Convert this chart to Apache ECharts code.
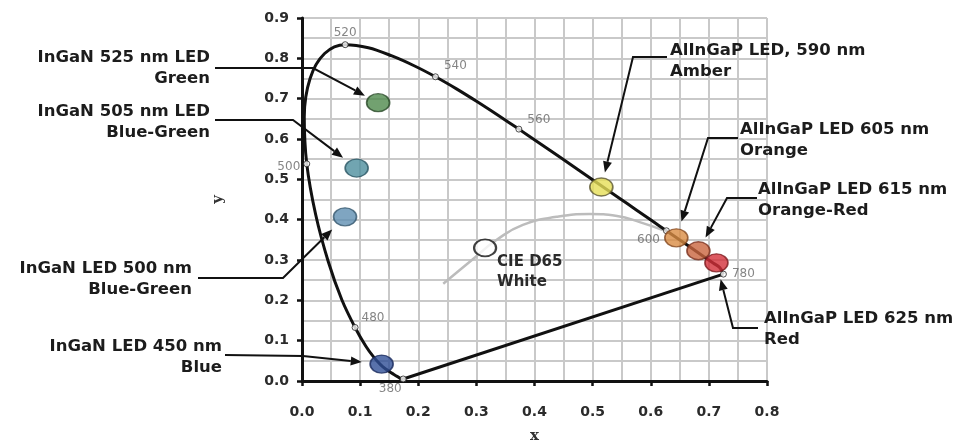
<!DOCTYPE html>
<html><head><meta charset="utf-8">
<script src="https://cdn.jsdelivr.net/npm/echarts@6/dist/echarts.min.js"></script>
<style>html,body{margin:0;padding:0;background:#fff}#c{width:966px;height:441px}</style>
</head><body><div id="c"></div>
<script>
// ---------- data ----------
const locusNm = [380,420,440,450,455,460,465,470,475,480,485,490,495,500,505,510,515,520,525,530,535,540,545,550,555,560,565,570,575,580,585,590,595,600,605,610,620,630,640,780];
const locusX = [0.1741,0.1714,0.1644,0.1566,0.1510,0.1440,0.1355,0.1241,0.1096,0.0913,0.0687,0.0454,0.0235,0.0082,0.0039,0.0139,0.0389,0.0743,0.1142,0.1547,0.1929,0.2296,0.2658,0.3016,0.3373,0.3731,0.4087,0.4441,0.4788,0.5125,0.5448,0.5752,0.6029,0.6270,0.6482,0.6658,0.6915,0.7079,0.7190,0.7250];
const locusY = [0.0050,0.0051,0.0109,0.0177,0.0227,0.0297,0.0399,0.0578,0.0868,0.1327,0.2007,0.2950,0.4127,0.5384,0.6548,0.7502,0.8120,0.8338,0.8262,0.8059,0.7816,0.7543,0.7243,0.6923,0.6589,0.6245,0.5896,0.5547,0.5202,0.4866,0.4544,0.4242,0.3965,0.3725,0.3514,0.3340,0.3083,0.2920,0.2809,0.2650];

const markNm = [380,480,500,520,540,560,600,780];
const markX = [0.1741,0.0913,0.0082,0.0743,0.2296,0.3731,0.6270,0.7250];
const markY = [0.0050,0.1327,0.5384,0.8338,0.7543,0.6245,0.3725,0.2650];

const purpleX = [0.1741,0.7250];
const purpleY = [0.0050,0.2650];

const grayX = [0.243,0.298,0.335,0.380,0.438,0.495,0.542,0.581,0.621];
const grayY = [0.241,0.307,0.350,0.387,0.407,0.414,0.409,0.394,0.374];

const whiteX = [0.315];
const whiteY = [0.330];
const whiteLabel = ['CIE D65', 'White'];

const ledTitle = ['InGaN 525 nm LED','InGaN 505 nm LED','InGaN LED 500 nm','InGaN LED 450 nm','AlInGaP LED, 590 nm','AlInGaP LED 605 nm','AlInGaP LED 615 nm','AlInGaP LED 625 nm'];
const ledSub = ['Green','Blue-Green','Blue-Green','Blue','Amber','Orange','Orange-Red','Red'];
const ledX = [0.131,0.094,0.074,0.137,0.515,0.644,0.682,0.713];
const ledY = [0.690,0.528,0.407,0.042,0.481,0.355,0.323,0.293];

const xTickLabels = ['0.0','0.1','0.2','0.3','0.4','0.5','0.6','0.7','0.8'];
const yTickLabels = ['0.0','0.1','0.2','0.3','0.4','0.5','0.6','0.7','0.8','0.9'];

// ---------- styles / layout ----------
const ledFill = ['#4f8a4c','#4d8f9d','#5f8fb2','#2f4f96','#e6de58','#da8c44','#c9653f','#d3303a'];
const ledBorder = ['#2b4a29','#2c5664','#36576e','#1a2b5c','#5a5530','#84491f','#7a3221','#7d1b1f'];
const markLabel = {
  380:{position:'bottom', offset:[-13,-3]},
  480:{position:'right', offset:[0,-10]},
  500:{position:'left', offset:[0,3]},
  520:{position:'top', offset:[0,1]},
  540:{position:'right', offset:[2,-11]},
  560:{position:'right', offset:[2,-9]},
  600:{position:'left', offset:[0,9]},
  780:{position:'right', offset:[2,0]}
};
// callout layout in pixels: text anchor and leader path (text side -> elbow)
const callout = [
  {tx:210, ty:47, align:'right', path:[[215,68],[313,68]], d:15},
  {tx:210, ty:101, align:'right', path:[[215,120],[293,120]], d:17},
  {tx:192, ty:258, align:'right', path:[[198,278],[283,278]], d:18},
  {tx:222, ty:336, align:'right', path:[[225,355],[303,356]], d:20},
  {tx:670, ty:40, align:'left', path:[[667,57],[633,57]], d:15},
  {tx:740, ty:119, align:'left', path:[[738,138],[708,138]], d:17},
  {tx:758, ty:179, align:'left', path:[[757,198],[727,198]], d:15},
  {tx:764, ty:308, align:'left', path:[[758,328],[733,328]], d:17}
];

const FONT = '"DejaVu Sans", Verdana, sans-serif';
const chart = echarts.init(document.getElementById('c'), null, {renderer:'canvas'});
const gridColor = '#c9c9c9';

function zip(a,b){ return a.map((v,i)=>[v,b[i]]); }

const axisCommon = (labels, margin) => ({
  type:'value',
  interval:0.1,
  axisLine:{show:true, onZero:false, lineStyle:{color:'#111', width:3}},
  axisTick:{show:true, length:5, lineStyle:{color:'#111', width:2.5}},
  axisLabel:{fontFamily:FONT, fontWeight:'bold', fontSize:14, color:'#2b2b2b', margin:margin,
    formatter:(v)=>labels[Math.round(v*10)] ?? ''},
  splitLine:{show:true, lineStyle:{color:gridColor, width:2}},
  minorTick:{show:false, splitNumber:2},
  minorSplitLine:{show:true, lineStyle:{color:gridColor, width:2}},
  nameLocation:'middle',
  nameTextStyle:{fontFamily:'"DejaVu Serif", serif', fontWeight:'bold', fontSize:15, color:'#333'}
});

const option = {
  animation:false,
  backgroundColor:'#fff',
  grid:{left:302, right:199, top:18, bottom:60, containLabel:false, outerBoundsMode:'none'},
  xAxis: Object.assign(axisCommon(xTickLabels, 24), {min:0, max:0.8, name:'x', nameGap:48}),
  yAxis: Object.assign(axisCommon(yTickLabels, 13), {min:0, max:0.9, name:'y', nameGap:76, nameRotate:90}),
  series:[
    {type:'line', data:zip(grayX,grayY), smooth:true, symbol:'none', z:2,
      lineStyle:{color:'#bcbcbc', width:2.5}},
    {type:'line', data:zip(locusX,locusY), smooth:0.35, symbol:'none', z:3,
      lineStyle:{color:'#111', width:3}},
    {type:'line', data:zip(purpleX,purpleY), symbol:'none', z:3,
      lineStyle:{color:'#111', width:3}},
    {type:'scatter', z:5, symbol:'circle', symbolSize:6,
      itemStyle:{color:'#fff', borderColor:'#222', borderWidth:1},
      data:markNm.map((nm,i)=>({value:[markX[i],markY[i]],
        label:Object.assign({show:true, formatter:String(nm), color:'#666', fontSize:12, fontFamily:FONT, distance:3}, markLabel[nm])}))},
    {type:'scatter', z:6, symbol:'circle', symbolSize:[22,17],
      itemStyle:{color:'#fff', borderColor:'#111', borderWidth:2},
      data:zip(whiteX,whiteY)},
    {type:'scatter', z:6, symbol:'circle', symbolSize:[23,18],
      data:ledX.map((x,i)=>({value:[x,ledY[i]], itemStyle:{color:ledFill[i], borderColor:ledBorder[i], borderWidth:1.5}}))}
  ]
};
chart.setOption(option);

// ---------- annotations ----------
const g = [];
const LW = 2, AL = 11, AW = 9;
ledX.forEach((x,i)=>{
  const c = chart.convertToPixel({gridIndex:0}, [x, ledY[i]]);
  const co = callout[i];
  const elbow = co.path[co.path.length-1];
  let dx = c[0]-elbow[0], dy = c[1]-elbow[1];
  const len = Math.hypot(dx,dy); dx/=len; dy/=len;
  const tip = [c[0]-co.d*dx, c[1]-co.d*dy];
  const base = [tip[0]-AL*dx, tip[1]-AL*dy];
  g.push({type:'polyline', z:50, shape:{points:co.path.concat([base])},
    style:{stroke:'#111', lineWidth:LW, fill:null}});
  g.push({type:'polygon', z:51, shape:{points:[tip,
      [base[0]-dy*AW/2, base[1]+dx*AW/2],
      [base[0]+dy*AW/2, base[1]-dx*AW/2]]},
    style:{fill:'#111'}});
  g.push({type:'text', z:52, style:{x:co.tx, y:co.ty, text:ledTitle[i]+'\n'+ledSub[i],
    align:co.align, verticalAlign:'top', lineHeight:21,
    font:'bold 16.5px '+FONT, fill:'#1c1c1c'}});
});
const w = chart.convertToPixel({gridIndex:0}, [whiteX[0], whiteY[0]]);
g.push({type:'text', z:52, style:{x:w[0]+12, y:w[1]+4, text:whiteLabel.join('\n'),
  align:'left', verticalAlign:'top', lineHeight:20, font:'bold 15px '+FONT, fill:'#2a2a2a'}});
chart.setOption({graphic:g});
</script>
</body></html>
